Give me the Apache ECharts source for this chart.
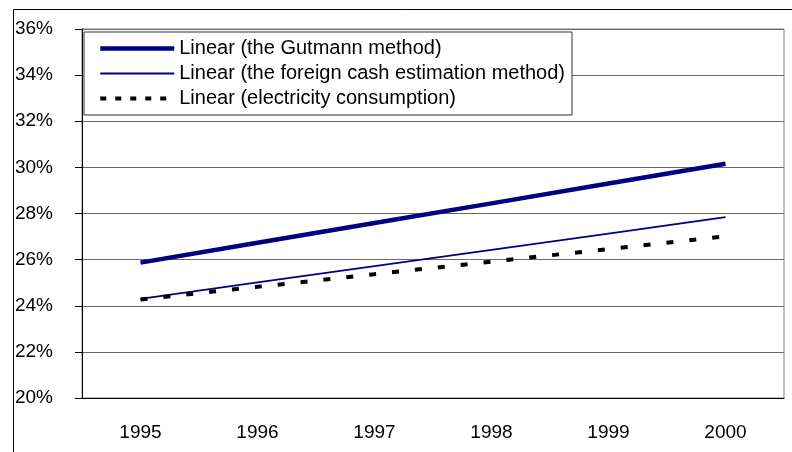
<!DOCTYPE html>
<html>
<head>
<meta charset="utf-8">
<script src="https://cdn.jsdelivr.net/npm/echarts@6/dist/echarts.min.js"></script>
<style>
  html, body { margin: 0; padding: 0; background: #fff; }
  #chart { width: 792px; height: 452px; }
</style>
</head>
<body>
<div id="chart"></div>
<script>
// data (trend lines, % of GDP)
const years = ['1995', '1996', '1997', '1998', '1999', '2000'];
const gutmann = [25.87, 26.73, 27.59, 28.44, 29.30, 30.16];
const foreignCash = [24.30, 25.01, 25.72, 26.42, 27.13, 27.84];
const electricity = [24.27, 24.82, 25.37, 25.91, 26.46, 27.01];
const seriesNames = [
  'Linear (the Gutmann method)',
  'Linear (the foreign cash estimation method)',
  'Linear (electricity consumption)'
];
const yMin = 20, yMax = 36, yStep = 2;

const FONT = '"Liberation Sans", Arial, sans-serif';
const NAVY = '#000080';

const chart = echarts.init(document.getElementById('chart'), null, { renderer: 'canvas' });

chart.setOption({
  backgroundColor: '#fff',
  animation: false,
  textStyle: { fontFamily: FONT, color: '#000' },
  // outer chart frame
  graphic: [{
    type: 'rect',
    left: 11, top: 7,
    shape: { width: 800, height: 500 },
    style: { fill: 'none', stroke: '#000', lineWidth: 1 },
    silent: true, z: -1
  }],
  grid: {
    left: 82, top: 29, right: 8, bottom: 54,
    show: true, borderColor: '#808080', borderWidth: 1, backgroundColor: '#fff'
  },
  legend: {
    orient: 'vertical',
    left: 84, top: 32,
    padding: [6, 7, 6, 14],
    itemWidth: 74, itemHeight: 14, itemGap: 4,
    borderColor: '#333', borderWidth: 1, backgroundColor: '#fff',
    itemStyle: { opacity: 0 },
    textStyle: { fontFamily: FONT, fontSize: 20, color: '#000', lineHeight: 21 },
    data: [
      { name: seriesNames[0], lineStyle: { width: 4.5 } },
      { name: seriesNames[1], lineStyle: { width: 2 } },
      { name: seriesNames[2], lineStyle: { width: 4, type: [6, 9] } }
    ]
  },
  xAxis: {
    type: 'category',
    data: years,
    boundaryGap: true,
    axisLine: { lineStyle: { color: '#000', width: 1 } },
    axisTick: { length: 7, lineStyle: { color: '#000' } },
    axisLabel: { fontFamily: FONT, fontSize: 19, color: '#000', margin: 25 },
    splitLine: { show: false }
  },
  yAxis: {
    type: 'value',
    min: yMin, max: yMax, interval: yStep,
    axisLine: { show: true, lineStyle: { color: '#000', width: 1 } },
    axisTick: { show: true, length: 7, lineStyle: { color: '#000' } },
    axisLabel: { fontFamily: FONT, fontSize: 19, color: '#000', margin: 29, formatter: '{value}%' },
    splitLine: { lineStyle: { color: '#6a6a6a', width: 1 } }
  },
  series: [
    {
      name: seriesNames[0], type: 'line', data: gutmann, symbol: 'none',
      lineStyle: { color: NAVY, width: 4.5 }, itemStyle: { color: NAVY }
    },
    {
      name: seriesNames[1], type: 'line', data: foreignCash, symbol: 'none',
      lineStyle: { color: NAVY, width: 1.8 }, itemStyle: { color: NAVY }
    },
    {
      name: seriesNames[2], type: 'line', data: electricity, symbol: 'none',
      lineStyle: { color: '#000', width: 4, type: [7, 16] }, itemStyle: { color: '#000' }
    }
  ]
});
</script>
</body>
</html>
